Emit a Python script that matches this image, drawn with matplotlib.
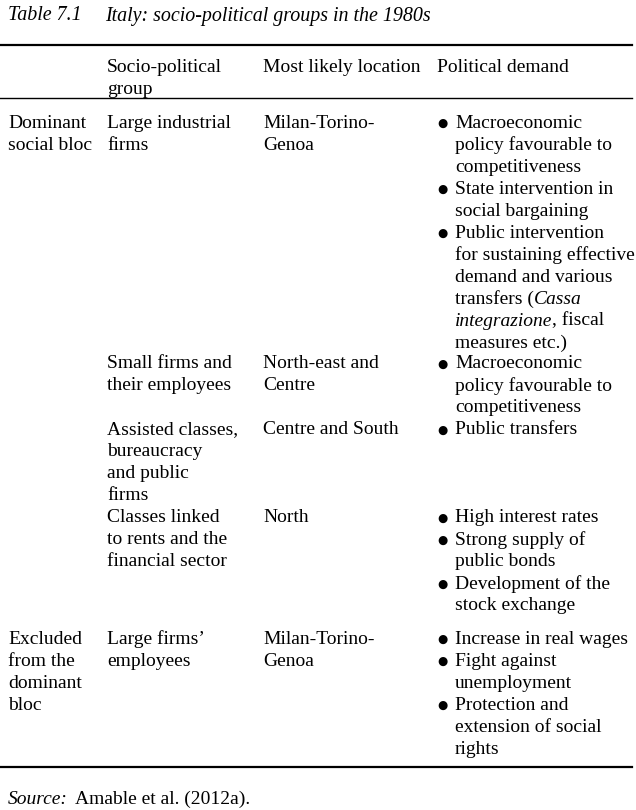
import matplotlib.pyplot as plt

title_no = "Table 7.1"
title = "Italy: socio-political groups in the 1980s"
headers = ["", "Socio-political\ngroup", "Most likely location", "Political demand"]
blocs = ["Dominant\nsocial bloc", "", "", "", "Excluded\nfrom the\ndominant\nbloc"]
groups = ["Large industrial\nfirms", "Small firms and\ntheir employees",
          "Assisted classes,\nbureaucracy\nand public\nfirms",
          "Classes linked\nto rents and the\nfinancial sector", "Large firms’\nemployees"]
locations = ["Milan-Torino-\nGenoa", "North-east and\nCentre", "Centre and South",
             "North", "Milan-Torino-\nGenoa"]
# each item: list of lines; a line may be a list of (text, italic) pieces
demands = [
    [["Macroeconomic", "policy favourable to", "competitiveness"],
     ["State intervention in", "social bargaining"],
     ["Public intervention", "for sustaining effective", "demand and various",
      [("transfers (", False), ("Cassa", True)],
      [("integrazione", True), (", fiscal", False)], "measures etc.)"]],
    [["Macroeconomic", "policy favourable to", "competitiveness"]],
    [["Public transfers"]],
    [["High interest rates"], ["Strong supply of", "public bonds"],
     ["Development of the", "stock exchange"]],
    [["Increase in real wages"], ["Fight against", "unemployment"],
     ["Protection and", "extension of social", "rights"]],
]
source = "Amable et al. (2012a)."

row_top = [123, 364, 430, 518, 639]
step = 22
col_x = [8, 107, 263]
bx, tx = 437, 455
fs = 14.0
font = "Liberation Serif"

fig = plt.figure(figsize=(6.36, 8.10), dpi=100)
ax = fig.add_axes([0, 0, 1, 1])
ax.set_xlim(0, 636)
ax.set_ylim(810, 0)
ax.axis("off")
r = fig.canvas.get_renderer()

def put(x, y, s, italic=False, size=fs):
    t = ax.text(x, y, s, family=font, fontsize=size, style="italic" if italic else "normal",
                va="center", ha="left", linespacing=1.2)
    return t

def multi(x, y, s):
    for i, line in enumerate(s.split("\n")):
        if line:
            put(x, y + i * step, line)

put(8, 16, title_no, True, 14.4)
put(105, 16, title, True, 14.4)
ax.plot([0, 632], [45, 45], color="black", lw=1.6)
ax.plot([0, 632], [98, 98], color="black", lw=1.0)
ax.plot([0, 632], [767, 767], color="black", lw=1.6)

for x, h in zip(col_x + [437], headers):
    multi(x, 67, h)

for k, y0 in enumerate(row_top):
    multi(col_x[0], y0, blocs[k])
    multi(col_x[1], y0, groups[k])
    multi(col_x[2], y0, locations[k])
    y = y0
    for item in demands[k]:
        ax.text(bx, y, "●", family=["DejaVu Sans"], fontsize=8.5, va="center", ha="left")
        for line in item:
            if isinstance(line, str):
                put(tx, y, line)
            else:
                x = tx
                for piece, it in line:
                    t = put(x, y, piece, it)
                    bb = t.get_window_extent(r)
                    x += bb.width
            y += step

put(8, 799, "Source:", True)
put(75, 799, source)

fig.savefig("out.png", dpi=100)
